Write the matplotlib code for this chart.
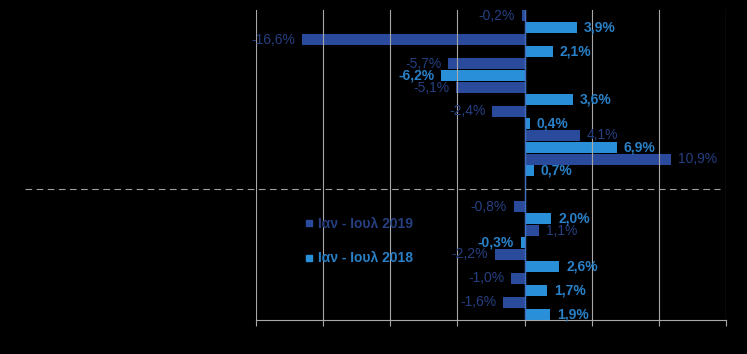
import numpy as np
import matplotlib
matplotlib.use("Agg")
import matplotlib.pyplot as plt
from matplotlib.lines import Line2D

plt.rcParams['font.family'] = ['Liberation Sans', 'DejaVu Sans']

# values (%) per category, top to bottom; a gap row sits after the 7th category
vals_2019 = [-0.2, -16.6, -5.7, -5.1, -2.4, 4.1, 10.9, -0.8, 1.1, -2.2, -1.0, -1.6]
vals_2018 = [3.9, 2.1, -6.2, 3.6, 0.4, 6.9, 0.7, 2.0, -0.3, 2.6, 1.7, 1.9]
series_names = ['Ιαν - Ιουλ 2019', 'Ιαν - Ιουλ 2018']

c19_bar, c19_txt = '#2A4B9B', '#253F80'
c18_bar, c18_txt = '#2A8FD9', '#2A80C6'

W, H = 747, 354
fig = plt.figure(figsize=(W / 100, H / 100), dpi=100, facecolor='black')
ax = fig.add_axes([256 / W, 1 - 320 / H, 470 / W, 310 / H])
ax.set_facecolor('black')

n = len(vals_2019)
slots = np.array([i if i < 7 else i + 1 for i in range(n)])
bh = 0.46

ax.barh(slots - 0.25, vals_2019, height=bh, color=c19_bar, zorder=2)
ax.barh(slots + 0.25, vals_2018, height=bh, color=c18_bar, zorder=2)

def fmt(v):
    return f"{v:.1f}%".replace('.', ',')

pad = 0.5
for y, v in zip(slots - 0.25, vals_2019):
    ax.text(v + (pad if v >= 0 else -pad), y, fmt(v), color=c19_txt, fontsize=10,
            ha='left' if v >= 0 else 'right', va='center', zorder=4)
for y, v in zip(slots + 0.25, vals_2018):
    ax.text(v + (pad if v >= 0 else -pad), y, fmt(v), color=c18_txt, fontsize=10,
            fontweight='bold', ha='left' if v >= 0 else 'right', va='center', zorder=4)

ax.set_xlim(-20, 15)
ax.set_ylim(12.5, -0.5)
ax.set_xticks(np.arange(-20, 16, 5))
ax.set_yticks([])
ax.xaxis.grid(True, color='#A8A8A8', linewidth=0.8, zorder=3)
ax.set_axisbelow(False)
ax.tick_params(axis='x', colors='#A8A8A8', length=4, labelbottom=False)
for s in ['top', 'left', 'right']:
    ax.spines[s].set_visible(False)
ax.spines['bottom'].set_color('#A8A8A8')
ax.axvline(0, color='#3F6CC0', linewidth=1.0, zorder=3)

# dashed separator across the figure
ax.axhline(7, xmin=(25 - 256) / 470, xmax=(720 - 256) / 470, color='#A0A0A0',
           linewidth=0.8, linestyle=(0, (6, 4)), clip_on=False, zorder=3)

handles = [Line2D([], [], marker='s', linestyle='', color=c19_bar, markersize=4.5),
           Line2D([], [], marker='s', linestyle='', color=c18_bar, markersize=4.5)]
leg = fig.legend(handles, series_names, loc='center left',
                 bbox_to_anchor=(292 / W, 1 - 241 / H), frameon=False,
                 handlelength=0.6, handletextpad=0.4, labelspacing=1.5,
                 prop={'size': 10, 'weight': 'bold'})
leg.get_texts()[0].set_color(c19_txt)
leg.get_texts()[1].set_color(c18_txt)

fig.savefig('out.png', dpi=100, facecolor='black')
